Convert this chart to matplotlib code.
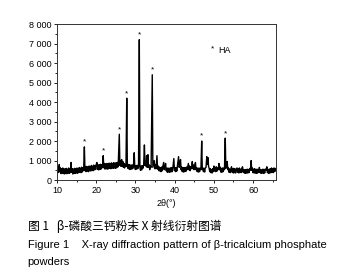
import matplotlib

matplotlib.use("Agg")
import matplotlib.pyplot as plt
from matplotlib.ticker import MultipleLocator

plt.rcParams["font.family"] = ["Liberation Sans", "DejaVu Sans"]

# XRD trace, as (2theta in degrees, counts)
trace_low = [
    (10.0, 500), (10.15, 360), (10.3, 650), (10.45, 400), (10.6, 800), (10.75, 430), (10.9, 620),
    (11.05, 330), (11.2, 580), (11.35, 360), (11.5, 620), (11.65, 330), (11.8, 560), (11.95, 310),
    (12.1, 580), (12.25, 350), (12.4, 600), (12.55, 320), (12.7, 560), (12.85, 360), (13.0, 620),
    (13.15, 340), (13.3, 580), (13.45, 380), (13.6, 900), (13.75, 400), (13.9, 580), (14.05, 310),
    (14.2, 560), (14.35, 330), (14.5, 600), (14.65, 340), (14.8, 570), (14.95, 360), (15.1, 620),
    (15.25, 350), (15.4, 590), (15.55, 380), (15.7, 640), (15.85, 400), (16.0, 610), (16.15, 380),
    (16.3, 660), (16.45, 410), (16.6, 620), (16.8, 480), (17.0, 1700), (17.15, 480), (17.3, 680),
    (17.45, 430), (17.6, 700), (17.75, 460), (17.9, 660), (18.05, 430), (18.2, 720), (18.35, 480),
    (18.5, 700), (18.65, 460), (18.8, 750), (18.95, 500), (19.1, 710), (19.25, 480), (19.4, 770),
    (19.55, 520), (19.7, 730), (19.85, 540), (20.0, 790), (20.2, 900), (20.35, 540), (20.5, 770),
    (20.65, 520), (20.8, 790), (20.95, 540), (21.1, 810), (21.25, 560), (21.4, 790), (21.6, 630),
    (21.8, 1250), (21.95, 630), (22.1, 850), (22.25, 560), (22.4, 830), (22.55, 580), (22.7, 850),
    (22.85, 560), (23.0, 830), (23.15, 580), (23.3, 870), (23.45, 600), (23.6, 850), (23.75, 580),
    (23.9, 880), (24.05, 620), (24.2, 850), (24.35, 600), (24.5, 890), (24.65, 620), (24.8, 860),
    (24.95, 600), (25.1, 890), (25.25, 630), (25.4, 900), (25.6, 680),
]
trace_main = [
    (25.9, 2350), (26.05, 750), (26.2, 1000), (26.35, 700), (26.5, 1050), (26.65, 700), (26.8, 950),
    (26.95, 650), (27.1, 850), (27.25, 620), (27.4, 800), (27.6, 700), (27.8, 4200), (27.95, 700),
    (28.1, 600), (28.25, 800), (28.4, 560), (28.55, 780), (28.7, 540), (28.85, 760), (29.0, 560),
    (29.15, 780), (29.3, 580), (29.5, 700), (29.7, 1400), (29.85, 650), (30.0, 540), (30.15, 740),
    (30.3, 560), (30.45, 760), (30.6, 580), (30.8, 700), (31.0, 7200), (31.15, 650), (31.3, 500),
    (31.45, 720), (31.6, 520), (31.75, 740), (31.9, 600), (32.1, 750), (32.3, 1800), (32.45, 750),
    (32.6, 950), (32.75, 700), (32.85, 1250), (33.0, 650), (33.2, 1300), (33.35, 650), (33.5, 780),
    (33.65, 530), (33.8, 720), (34.0, 650), (34.3, 5400), (34.45, 650), (34.6, 800), (34.8, 1000),
    (34.95, 580), (35.1, 770), (35.25, 580), (35.5, 1250), (35.65, 560), (35.8, 720),
]
trace_high = [
    (35.95, 480), (36.1, 670), (36.25, 460), (36.4, 640), (36.55, 430), (36.7, 670), (36.85, 480),
    (37.0, 700), (37.2, 900), (37.35, 530), (37.5, 650), (37.7, 850), (37.85, 480), (38.0, 600),
    (38.15, 400), (38.3, 620), (38.45, 410), (38.6, 600), (38.75, 400), (38.9, 620), (39.05, 420),
    (39.2, 640), (39.35, 430), (39.55, 620), (39.8, 1100), (39.95, 480), (40.1, 640), (40.25, 430),
    (40.4, 640), (40.55, 460), (40.7, 700), (41.0, 1200), (41.15, 650), (41.3, 750), (41.5, 1050),
    (41.65, 530), (41.8, 670), (41.95, 430), (42.1, 620), (42.25, 410), (42.4, 640), (42.55, 430),
    (42.7, 620), (42.85, 440), (43.0, 670), (43.2, 530), (43.5, 850), (43.65, 530), (43.8, 720),
    (43.95, 480), (44.1, 670), (44.3, 580), (44.5, 950), (44.65, 580), (44.8, 770), (44.95, 530),
    (45.1, 720), (45.3, 900), (45.45, 530), (45.6, 640), (45.75, 430), (45.9, 600), (46.05, 410),
    (46.2, 620), (46.35, 430), (46.5, 600), (46.7, 530), (46.9, 2000), (47.05, 530), (47.2, 620),
    (47.35, 430), (47.5, 600), (47.65, 410), (47.8, 620), (48.0, 650), (48.2, 1200), (48.35, 800),
    (48.5, 1150), (48.65, 700), (48.8, 600), (48.95, 430), (49.1, 580), (49.25, 380), (49.4, 540),
    (49.55, 360), (49.7, 580), (49.85, 430), (50.0, 720), (50.15, 460), (50.3, 640), (50.45, 430),
    (50.6, 680), (50.75, 450), (50.9, 620), (51.1, 530), (51.3, 850), (51.45, 530), (51.6, 670),
    (51.75, 410), (51.9, 600), (52.05, 400), (52.2, 620), (52.35, 430), (52.55, 620), (52.7, 530),
    (52.9, 2150), (53.05, 600), (53.2, 700), (53.4, 950), (53.55, 530), (53.7, 620), (53.85, 400),
    (54.0, 570), (54.15, 380), (54.3, 540), (54.5, 680), (54.65, 400), (54.8, 580), (54.95, 360),
    (55.1, 600), (55.25, 380), (55.4, 560), (55.55, 360), (55.7, 580), (55.9, 620), (56.05, 400),
    (56.2, 580), (56.35, 360), (56.5, 620), (56.65, 400), (56.8, 560), (56.95, 380), (57.1, 580),
    (57.3, 680), (57.45, 400), (57.6, 540), (57.75, 360), (57.9, 520), (58.05, 340), (58.2, 540),
    (58.35, 360), (58.5, 560), (58.65, 360), (58.8, 540), (58.95, 380), (59.1, 580), (59.3, 500),
    (59.5, 1000), (59.65, 500), (59.8, 620), (59.95, 380), (60.1, 560), (60.25, 360), (60.4, 580),
    (60.55, 360), (60.7, 540), (60.85, 340), (61.0, 560), (61.15, 360), (61.3, 540), (61.45, 400),
    (61.6, 650), (61.75, 380), (61.9, 540), (62.05, 340), (62.2, 520), (62.35, 360), (62.5, 560),
    (62.65, 340), (62.8, 540), (62.95, 360), (63.1, 560), (63.3, 500), (63.5, 680), (63.65, 380),
    (63.8, 540), (63.95, 340), (64.1, 560), (64.25, 360), (64.4, 580), (64.55, 380), (64.7, 620),
    (64.85, 400), (65.0, 580), (65.15, 380), (65.3, 620), (65.45, 430), (65.6, 600), (65.75, 480),
]

# HA peaks marked with an asterisk
ha_theta = [17.0, 21.8, 25.9, 27.8, 31.0, 34.3, 46.9, 52.9]
ha_counts = [1700, 1250, 2350, 4200, 7200, 5400, 2000, 2150]

y_ticks = [0, 1000, 2000, 3000, 4000, 5000, 6000, 7000, 8000]
y_labels = ["0", "1 000", "2 000", "3 000", "4 000", "5 000", "6 000", "7 000", "8 000"]
x_ticks = [10, 20, 30, 40, 50, 60]

trace = trace_low + trace_main + trace_high
two_theta = [p[0] for p in trace]
intensity = [p[1] for p in trace]

fig = plt.figure(figsize=(3.47, 2.80), dpi=100)
ax = fig.add_axes([0.164, 0.357, 0.631, 0.557])

ax.plot(two_theta, intensity, color="black", lw=1.0)
for t, c in zip(ha_theta, ha_counts):
    ax.text(t, c + 60, "*", ha="center", va="bottom", fontsize=6)

ax.text(0.72, 0.84, "*", transform=ax.transAxes, ha="right", va="center", fontsize=6)
ax.text(0.735, 0.83, "HA", transform=ax.transAxes, ha="left", va="center", fontsize=6.5)

ax.set_xlim(10, 65.8)
ax.set_ylim(0, 8000)
ax.set_xticks(x_ticks)
ax.set_yticks(y_ticks)
ax.set_yticklabels(y_labels)
ax.xaxis.set_minor_locator(MultipleLocator(5))
ax.yaxis.set_minor_locator(MultipleLocator(500))
ax.tick_params(which="both", direction="out", labelsize=6.5, width=0.6, pad=1.5)
ax.tick_params(which="major", length=2.5)
ax.tick_params(which="minor", length=1.5)
for s in ax.spines.values():
    s.set_linewidth(0.7)
    s.set_color("#333333")

ax.set_xlabel("2θ(°)", fontsize=6.5, labelpad=3)

fig.text(0.08, 0.192, "图 1   β-磷酸三钙粉末 X 射线衍射图谱", fontsize=8.5,
         family=["Noto Sans CJK SC", "DejaVu Sans"], va="center", ha="left")
fig.text(0.08, 0.125, "Figure 1    X-ray diffraction pattern of β-tricalcium phosphate",
         fontsize=8.0, va="center", ha="left")
fig.text(0.08, 0.065, "powders", fontsize=8.0, va="center", ha="left")

fig.savefig("out.png", dpi=100)
